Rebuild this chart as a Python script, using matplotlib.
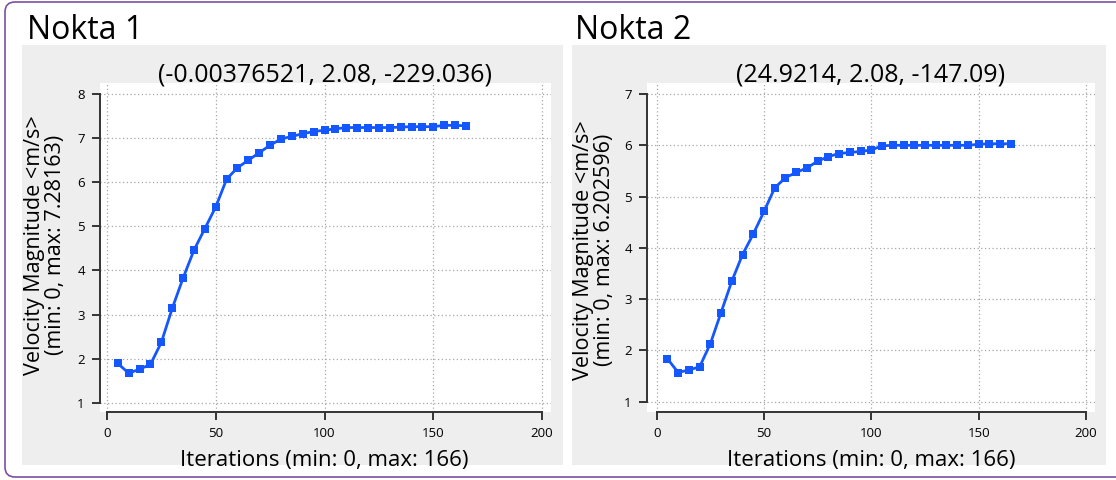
import matplotlib
matplotlib.use("Agg")
import matplotlib.pyplot as plt
from matplotlib.patches import Rectangle, FancyBboxPatch
from matplotlib.transforms import IdentityTransform

plt.rcParams['font.family'] = ['Open Sans', 'DejaVu Sans']

# data
iterations = [5, 10, 15, 20, 25, 30, 35, 40, 45, 50, 55, 60, 65, 70, 75, 80, 85,
              90, 95, 100, 105, 110, 115, 120, 125, 130, 135, 140, 145, 150, 155, 160, 165]
velocity_1 = [1.89, 1.67, 1.76, 1.87, 2.37, 3.14, 3.83, 4.46, 4.95, 5.44, 6.07, 6.33,
              6.50, 6.67, 6.84, 6.98, 7.04, 7.10, 7.15, 7.18, 7.21, 7.24, 7.24, 7.24,
              7.24, 7.24, 7.25, 7.26, 7.26, 7.26, 7.29, 7.29, 7.28]
velocity_2 = [1.84, 1.57, 1.62, 1.68, 2.13, 2.74, 3.35, 3.87, 4.27, 4.71, 5.17, 5.37,
              5.47, 5.56, 5.69, 5.78, 5.84, 5.86, 5.88, 5.91, 5.99, 6.00, 6.00, 6.00,
              6.00, 6.00, 6.00, 6.00, 6.00, 6.02, 6.03, 6.03, 6.03]

panel_titles = ["Nokta 1", "Nokta 2"]
subtitles = ["(-0.00376521, 2.08, -229.036)", "(24.9214, 2.08, -147.09)"]
ylabels = ["Velocity Magnitude <m/s>\n(min: 0, max: 7.28163)",
           "Velocity Magnitude <m/s>\n(min: 0, max: 6.202596)"]
xlabel = "Iterations (min: 0, max: 166)"
x_ticks = [0, 50, 100, 150, 200]
y_ticks_1 = [1, 2, 3, 4, 5, 6, 7, 8]
y_ticks_2 = [1, 2, 3, 4, 5, 6, 7]

W, H = 1116, 480
fig = plt.figure(figsize=(W / 100, H / 100), dpi=100)
fig.patch.set_facecolor("white")


def fx(px):
    return px / W


def fy(py):
    return 1 - py / H


def box(l, t, r, b):
    return [fx(l), fy(b), fx(r) - fx(l), fy(t) - fy(b)]


# purple outer frame (runs off the right edge)
fig.add_artist(FancyBboxPatch((5, H - 477), 1140, 475, boxstyle="round,pad=0,rounding_size=10",
                              transform=IdentityTransform(), fill=False,
                              edgecolor="#7d4fa3", linewidth=1.2, zorder=-2))

# gray panel backgrounds
for l, r in [(22, 563), (572, 1106)]:
    fig.add_artist(Rectangle((fx(l), fy(465)), fx(r) - fx(l), fy(45) - fy(465),
                             transform=fig.transFigure, facecolor="#eeeeee",
                             edgecolor="none", zorder=-1))

panels = [
    dict(box=(100, 83, 551, 412), xlim=(-3.2, 204.1), ylim=(0.79, 8.25), yt=y_ticks_1,
         y=velocity_1, title_x=27, sub_x=324.5, ylab_x=45, ylab_y=245),
    dict(box=(647, 83, 1095, 412), xlim=(-4.5, 204.2), ylim=(0.80, 7.215), yt=y_ticks_2,
         y=velocity_2, title_x=575, sub_x=871, ylab_x=594, ylab_y=250),
]

for i, p in enumerate(panels):
    ax = fig.add_axes(box(*p["box"]))
    ax.set_facecolor("white")
    ax.plot(iterations, p["y"], color="#1457ff", linewidth=2.0, marker="s",
            markersize=6, markeredgewidth=0, clip_on=False)
    ax.set_xlim(*p["xlim"])
    ax.set_ylim(*p["ylim"])
    ax.set_xticks(x_ticks)
    ax.set_yticks(p["yt"])
    ax.grid(True, color="#a8a8a8", linestyle=(0, (1, 2)), linewidth=0.9)
    ax.set_axisbelow(True)
    for s in ["top", "right"]:
        ax.spines[s].set_visible(False)
    ax.spines["left"].set_bounds(p["yt"][0], p["yt"][-1])
    ax.spines["bottom"].set_bounds(0, 200)
    for s in ["left", "bottom"]:
        ax.spines[s].set_color("#333333")
        ax.spines[s].set_linewidth(1.4)
    ax.tick_params(direction="out", length=6, width=1.4, color="#333333",
                   labelsize=9.5, pad=5)

    fig.text(fx(p["title_x"]), fy(39), panel_titles[i], fontsize=23,
             ha="left", va="baseline")
    fig.text(fx(p["sub_x"]), fy(81), subtitles[i], fontsize=18,
             ha="center", va="baseline")
    fig.text(fx(p["sub_x"]), fy(466), xlabel, fontsize=16,
             ha="center", va="baseline")
    fig.text(fx(p["ylab_x"]), fy(p["ylab_y"]), ylabels[i], fontsize=15.5,
             rotation=90, ha="center", va="center", multialignment="center",
             linespacing=0.95)

fig.savefig("out.png", dpi=100)
